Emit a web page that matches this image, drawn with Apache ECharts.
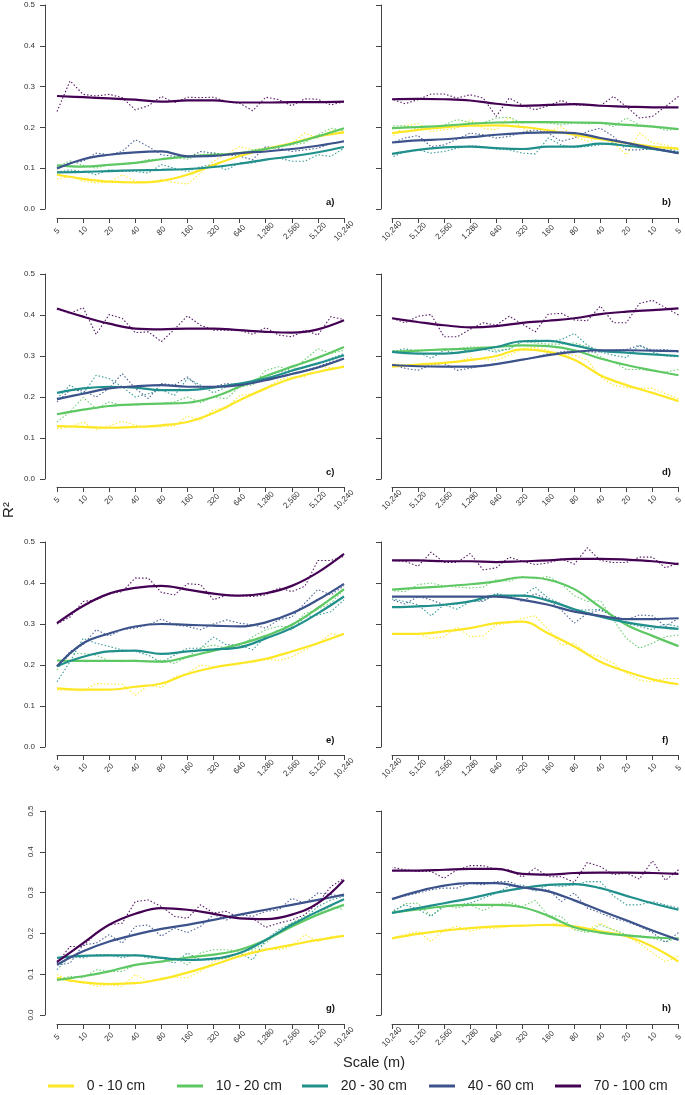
<!DOCTYPE html>
<html>
<head>
<meta charset="utf-8">
<script src="https://cdn.jsdelivr.net/npm/echarts@6/dist/echarts.min.js"></script>
<style>
  html, body { margin: 0; padding: 0; background: #fff; }
  #chart { width: 685px; height: 1095px; }
</style>
</head>
<body>
<div id="chart"></div>
<script>
// scale steps (m), doubling from 5
const scales = ['5', '10', '20', '40', '80', '160', '320', '640', '1,280', '2,560', '5,120', '10,240'];
const depths = ['0 - 10 cm', '10 - 20 cm', '20 - 30 cm', '40 - 60 cm', '70 - 100 cm'];
const colors = ['#FDE725', '#5DC863', '#21908C', '#3B528B', '#440154'];
const panelNames = ['a)', 'b)', 'c)', 'd)', 'e)', 'f)', 'g)', 'h)'];

// fitted curves: one value per scale step (5 ... 10,240), rows in depth order
// raw values: one value per half step (5, ~7, 10, ~14 ... 10,240)
const fitA = [
  [0.084, 0.074, 0.067, 0.065, 0.069, 0.084, 0.108, 0.130, 0.147, 0.161, 0.178, 0.188],
  [0.107, 0.104, 0.108, 0.113, 0.122, 0.129, 0.133, 0.137, 0.147, 0.160, 0.178, 0.198],
  [0.090, 0.091, 0.093, 0.095, 0.096, 0.098, 0.103, 0.111, 0.121, 0.129, 0.139, 0.152],
  [0.099, 0.122, 0.133, 0.139, 0.141, 0.129, 0.130, 0.137, 0.141, 0.147, 0.155, 0.166],
  [0.277, 0.274, 0.271, 0.268, 0.263, 0.266, 0.266, 0.261, 0.261, 0.262, 0.262, 0.263]
];
const rawA = [
  [0.073, 0.080, 0.068, 0.064, 0.065, 0.084, 0.068, 0.065, 0.072, 0.065, 0.061, 0.088, 0.117, 0.135, 0.153, 0.145, 0.149, 0.153, 0.162, 0.186, 0.174, 0.194, 0.190],
  [0.104, 0.118, 0.107, 0.100, 0.109, 0.109, 0.113, 0.121, 0.122, 0.125, 0.122, 0.133, 0.137, 0.133, 0.133, 0.145, 0.149, 0.153, 0.157, 0.162, 0.182, 0.198, 0.192],
  [0.090, 0.096, 0.092, 0.084, 0.096, 0.092, 0.092, 0.088, 0.109, 0.100, 0.092, 0.104, 0.109, 0.096, 0.113, 0.113, 0.121, 0.125, 0.117, 0.117, 0.133, 0.129, 0.149],
  [0.100, 0.113, 0.117, 0.137, 0.133, 0.141, 0.170, 0.153, 0.133, 0.129, 0.125, 0.141, 0.137, 0.133, 0.129, 0.121, 0.153, 0.149, 0.141, 0.145, 0.149, 0.161, 0.166],
  [0.239, 0.314, 0.281, 0.277, 0.281, 0.273, 0.243, 0.253, 0.276, 0.261, 0.274, 0.273, 0.274, 0.263, 0.259, 0.241, 0.274, 0.268, 0.253, 0.270, 0.269, 0.255, 0.263]
];

const fitB = [
  [0.148, 0.153, 0.162, 0.171, 0.182, 0.193, 0.201, 0.205, 0.204, 0.200, 0.194, 0.186],
  [0.196, 0.202, 0.206, 0.211, 0.212, 0.213, 0.213, 0.212, 0.209, 0.204, 0.201, 0.198],
  [0.137, 0.147, 0.155, 0.160, 0.153, 0.153, 0.147, 0.149, 0.153, 0.151, 0.145, 0.135],
  [0.137, 0.149, 0.162, 0.174, 0.186, 0.188, 0.186, 0.182, 0.176, 0.171, 0.168, 0.163],
  [0.249, 0.249, 0.251, 0.253, 0.257, 0.255, 0.253, 0.258, 0.266, 0.269, 0.270, 0.269]
];
const rawB = [
  [0.145, 0.157, 0.162, 0.186, 0.133, 0.162, 0.174, 0.166, 0.178, 0.202, 0.190, 0.186, 0.198, 0.225, 0.194, 0.198, 0.219, 0.198, 0.194, 0.190, 0.209, 0.204, 0.176],
  [0.196, 0.193, 0.204, 0.206, 0.223, 0.202, 0.211, 0.209, 0.211, 0.206, 0.211, 0.212, 0.211, 0.225, 0.223, 0.211, 0.212, 0.219, 0.206, 0.198, 0.196, 0.204, 0.204],
  [0.141, 0.149, 0.153, 0.157, 0.153, 0.162, 0.157, 0.153, 0.151, 0.157, 0.174, 0.135, 0.137, 0.145, 0.147, 0.153, 0.155, 0.149, 0.141, 0.137, 0.145, 0.141, 0.127],
  [0.137, 0.145, 0.147, 0.145, 0.145, 0.178, 0.198, 0.190, 0.174, 0.166, 0.186, 0.194, 0.188, 0.178, 0.174, 0.182, 0.186, 0.171, 0.157, 0.153, 0.180, 0.174, 0.163],
  [0.276, 0.251, 0.227, 0.223, 0.251, 0.276, 0.253, 0.255, 0.255, 0.266, 0.253, 0.243, 0.255, 0.272, 0.227, 0.272, 0.280, 0.272, 0.282, 0.282, 0.268, 0.258, 0.269]
];

const fitC = [
  [0.129, 0.127, 0.125, 0.127, 0.131, 0.139, 0.161, 0.192, 0.221, 0.245, 0.261, 0.274],
  [0.158, 0.169, 0.178, 0.182, 0.184, 0.186, 0.200, 0.225, 0.251, 0.274, 0.296, 0.322],
  [0.210, 0.221, 0.225, 0.223, 0.217, 0.217, 0.223, 0.233, 0.245, 0.264, 0.282, 0.302],
  [0.195, 0.208, 0.221, 0.226, 0.229, 0.225, 0.225, 0.229, 0.241, 0.256, 0.272, 0.294],
  [0.416, 0.396, 0.379, 0.367, 0.365, 0.367, 0.367, 0.363, 0.359, 0.357, 0.365, 0.387]
];
const rawC = [
  [0.123, 0.127, 0.139, 0.120, 0.129, 0.141, 0.131, 0.127, 0.127, 0.129, 0.154, 0.143, 0.169, 0.174, 0.204, 0.208, 0.223, 0.241, 0.249, 0.249, 0.274, 0.272, 0.272],
  [0.139, 0.164, 0.199, 0.172, 0.188, 0.180, 0.180, 0.184, 0.184, 0.188, 0.200, 0.186, 0.200, 0.196, 0.225, 0.229, 0.265, 0.274, 0.265, 0.291, 0.318, 0.306, 0.314],
  [0.196, 0.229, 0.208, 0.253, 0.245, 0.225, 0.200, 0.208, 0.217, 0.204, 0.245, 0.229, 0.210, 0.225, 0.229, 0.241, 0.249, 0.261, 0.265, 0.274, 0.282, 0.294, 0.306],
  [0.188, 0.217, 0.215, 0.200, 0.221, 0.257, 0.221, 0.196, 0.233, 0.229, 0.249, 0.221, 0.225, 0.233, 0.229, 0.237, 0.245, 0.249, 0.257, 0.265, 0.274, 0.286, 0.294],
  [0.414, 0.404, 0.418, 0.353, 0.401, 0.392, 0.357, 0.359, 0.335, 0.365, 0.398, 0.375, 0.363, 0.363, 0.363, 0.353, 0.369, 0.351, 0.347, 0.363, 0.351, 0.396, 0.389]
];

const fitD = [
  [0.190, 0.210, 0.229, 0.253, 0.291, 0.310, 0.316, 0.300, 0.290, 0.283, 0.279, 0.274],
  [0.253, 0.265, 0.278, 0.294, 0.314, 0.324, 0.326, 0.322, 0.318, 0.316, 0.313, 0.310],
  [0.300, 0.304, 0.308, 0.313, 0.326, 0.337, 0.336, 0.322, 0.312, 0.306, 0.306, 0.310],
  [0.312, 0.313, 0.314, 0.314, 0.310, 0.302, 0.291, 0.280, 0.274, 0.274, 0.275, 0.278],
  [0.416, 0.412, 0.408, 0.402, 0.392, 0.386, 0.381, 0.373, 0.370, 0.375, 0.383, 0.392]
];
const rawD = [
  [0.196, 0.208, 0.221, 0.221, 0.223, 0.229, 0.249, 0.290, 0.302, 0.306, 0.314, 0.321, 0.318, 0.302, 0.290, 0.291, 0.296, 0.286, 0.283, 0.282, 0.278, 0.278, 0.282],
  [0.267, 0.261, 0.264, 0.267, 0.267, 0.286, 0.298, 0.322, 0.332, 0.329, 0.329, 0.332, 0.335, 0.316, 0.314, 0.322, 0.322, 0.318, 0.316, 0.314, 0.314, 0.314, 0.313],
  [0.298, 0.300, 0.310, 0.326, 0.296, 0.302, 0.310, 0.326, 0.355, 0.340, 0.335, 0.339, 0.335, 0.318, 0.310, 0.316, 0.318, 0.306, 0.314, 0.294, 0.310, 0.318, 0.310],
  [0.310, 0.316, 0.314, 0.326, 0.316, 0.314, 0.310, 0.310, 0.314, 0.310, 0.306, 0.296, 0.290, 0.286, 0.280, 0.278, 0.270, 0.265, 0.282, 0.278, 0.265, 0.270, 0.278],
  [0.400, 0.418, 0.436, 0.428, 0.381, 0.381, 0.422, 0.386, 0.388, 0.404, 0.402, 0.359, 0.378, 0.397, 0.375, 0.381, 0.365, 0.347, 0.347, 0.401, 0.397, 0.381, 0.392]
];

const fitE = [
  [0.143, 0.140, 0.140, 0.147, 0.155, 0.178, 0.194, 0.204, 0.215, 0.233, 0.253, 0.276],
  [0.211, 0.210, 0.210, 0.210, 0.208, 0.220, 0.235, 0.251, 0.271, 0.298, 0.339, 0.385],
  [0.197, 0.220, 0.233, 0.235, 0.227, 0.233, 0.238, 0.243, 0.265, 0.290, 0.326, 0.367],
  [0.197, 0.253, 0.277, 0.294, 0.300, 0.298, 0.296, 0.294, 0.304, 0.326, 0.359, 0.398],
  [0.302, 0.344, 0.374, 0.388, 0.393, 0.384, 0.374, 0.369, 0.375, 0.393, 0.426, 0.471]
];
const rawE = [
  [0.139, 0.139, 0.137, 0.155, 0.153, 0.153, 0.126, 0.151, 0.145, 0.171, 0.180, 0.200, 0.196, 0.200, 0.204, 0.206, 0.214, 0.211, 0.220, 0.237, 0.253, 0.276, 0.271],
  [0.188, 0.228, 0.228, 0.224, 0.210, 0.208, 0.212, 0.208, 0.212, 0.204, 0.220, 0.241, 0.249, 0.241, 0.243, 0.269, 0.286, 0.294, 0.294, 0.326, 0.336, 0.351, 0.384],
  [0.159, 0.208, 0.265, 0.253, 0.245, 0.237, 0.233, 0.224, 0.206, 0.224, 0.241, 0.241, 0.268, 0.249, 0.249, 0.237, 0.269, 0.286, 0.286, 0.317, 0.322, 0.330, 0.359],
  [0.196, 0.233, 0.249, 0.286, 0.271, 0.286, 0.290, 0.298, 0.312, 0.298, 0.294, 0.286, 0.300, 0.310, 0.302, 0.298, 0.290, 0.310, 0.317, 0.351, 0.384, 0.371, 0.393],
  [0.300, 0.317, 0.355, 0.359, 0.374, 0.379, 0.412, 0.412, 0.377, 0.371, 0.398, 0.396, 0.359, 0.371, 0.369, 0.367, 0.371, 0.388, 0.379, 0.392, 0.455, 0.455, 0.465]
];

const fitF = [
  [0.153, 0.165, 0.184, 0.208, 0.245, 0.277, 0.306, 0.302, 0.290, 0.282, 0.276, 0.276],
  [0.246, 0.271, 0.298, 0.341, 0.385, 0.408, 0.414, 0.404, 0.397, 0.392, 0.388, 0.384],
  [0.288, 0.294, 0.304, 0.318, 0.336, 0.357, 0.369, 0.369, 0.355, 0.347, 0.343, 0.341],
  [0.314, 0.312, 0.312, 0.320, 0.330, 0.347, 0.359, 0.367, 0.367, 0.367, 0.367, 0.367],
  [0.446, 0.453, 0.457, 0.459, 0.459, 0.455, 0.453, 0.451, 0.453, 0.453, 0.455, 0.455]
];
const rawF = [
  [0.167, 0.167, 0.159, 0.163, 0.180, 0.204, 0.220, 0.228, 0.253, 0.249, 0.286, 0.320, 0.314, 0.302, 0.298, 0.271, 0.269, 0.292, 0.269, 0.265, 0.276, 0.276, 0.277],
  [0.273, 0.269, 0.253, 0.241, 0.265, 0.310, 0.357, 0.355, 0.369, 0.398, 0.416, 0.410, 0.416, 0.404, 0.408, 0.390, 0.388, 0.390, 0.393, 0.400, 0.396, 0.379, 0.381],
  [0.294, 0.300, 0.286, 0.294, 0.302, 0.318, 0.336, 0.334, 0.334, 0.349, 0.363, 0.390, 0.367, 0.367, 0.375, 0.355, 0.355, 0.336, 0.347, 0.320, 0.347, 0.355, 0.361],
  [0.314, 0.294, 0.320, 0.322, 0.310, 0.320, 0.334, 0.326, 0.302, 0.334, 0.359, 0.374, 0.355, 0.367, 0.371, 0.357, 0.357, 0.349, 0.347, 0.359, 0.367, 0.349, 0.359],
  [0.449, 0.437, 0.463, 0.463, 0.450, 0.450, 0.455, 0.486, 0.446, 0.459, 0.449, 0.445, 0.453, 0.463, 0.437, 0.432, 0.472, 0.450, 0.450, 0.475, 0.441, 0.453, 0.455]
];

const fitG = [
  [0.091, 0.080, 0.076, 0.078, 0.088, 0.104, 0.123, 0.144, 0.160, 0.172, 0.184, 0.194],
  [0.086, 0.095, 0.107, 0.123, 0.131, 0.141, 0.148, 0.160, 0.184, 0.217, 0.246, 0.270],
  [0.140, 0.145, 0.146, 0.146, 0.140, 0.135, 0.138, 0.152, 0.184, 0.221, 0.254, 0.284],
  [0.123, 0.156, 0.180, 0.197, 0.211, 0.221, 0.233, 0.246, 0.258, 0.270, 0.282, 0.295],
  [0.130, 0.176, 0.221, 0.248, 0.262, 0.258, 0.248, 0.237, 0.235, 0.246, 0.274, 0.331]
];
const rawG = [
  [0.099, 0.082, 0.082, 0.070, 0.074, 0.070, 0.099, 0.082, 0.091, 0.093, 0.091, 0.107, 0.131, 0.140, 0.148, 0.156, 0.164, 0.160, 0.168, 0.197, 0.180, 0.193, 0.193],
  [0.086, 0.095, 0.091, 0.111, 0.107, 0.107, 0.123, 0.127, 0.131, 0.140, 0.123, 0.152, 0.160, 0.160, 0.156, 0.160, 0.176, 0.205, 0.225, 0.242, 0.250, 0.266, 0.258],
  [0.111, 0.144, 0.140, 0.148, 0.148, 0.140, 0.148, 0.140, 0.140, 0.127, 0.152, 0.135, 0.135, 0.140, 0.152, 0.135, 0.184, 0.209, 0.225, 0.237, 0.266, 0.282, 0.291],
  [0.123, 0.127, 0.172, 0.176, 0.197, 0.176, 0.217, 0.221, 0.193, 0.213, 0.202, 0.217, 0.246, 0.233, 0.246, 0.242, 0.254, 0.258, 0.286, 0.274, 0.299, 0.295, 0.291],
  [0.127, 0.168, 0.168, 0.201, 0.221, 0.225, 0.278, 0.282, 0.266, 0.242, 0.237, 0.270, 0.250, 0.254, 0.237, 0.237, 0.215, 0.225, 0.233, 0.246, 0.274, 0.315, 0.335]
];

const fitH = [
  [0.131, 0.168, 0.193, 0.205, 0.217, 0.221, 0.219, 0.217, 0.213, 0.207, 0.199, 0.188],
  [0.188, 0.190, 0.195, 0.202, 0.215, 0.243, 0.264, 0.270, 0.270, 0.266, 0.259, 0.251],
  [0.258, 0.274, 0.292, 0.311, 0.321, 0.319, 0.311, 0.300, 0.286, 0.274, 0.262, 0.250],
  [0.184, 0.207, 0.232, 0.256, 0.281, 0.303, 0.313, 0.323, 0.323, 0.317, 0.303, 0.284],
  [0.346, 0.348, 0.349, 0.349, 0.348, 0.344, 0.346, 0.358, 0.358, 0.356, 0.354, 0.354]
];
const rawH = [
  [0.144, 0.131, 0.152, 0.176, 0.193, 0.209, 0.225, 0.209, 0.209, 0.227, 0.221, 0.219, 0.217, 0.217, 0.213, 0.213, 0.205, 0.217, 0.209, 0.180, 0.205, 0.197, 0.188],
  [0.188, 0.180, 0.188, 0.194, 0.197, 0.209, 0.221, 0.202, 0.209, 0.242, 0.243, 0.281, 0.266, 0.276, 0.270, 0.256, 0.270, 0.262, 0.270, 0.242, 0.274, 0.273, 0.250],
  [0.262, 0.270, 0.278, 0.270, 0.270, 0.292, 0.327, 0.327, 0.319, 0.315, 0.319, 0.303, 0.319, 0.315, 0.299, 0.286, 0.274, 0.270, 0.266, 0.242, 0.259, 0.270, 0.254],
  [0.202, 0.178, 0.202, 0.217, 0.229, 0.237, 0.250, 0.262, 0.299, 0.278, 0.307, 0.307, 0.313, 0.327, 0.327, 0.319, 0.323, 0.311, 0.311, 0.307, 0.299, 0.292, 0.286],
  [0.356, 0.330, 0.378, 0.333, 0.348, 0.344, 0.364, 0.374, 0.325, 0.339, 0.339, 0.360, 0.338, 0.356, 0.357, 0.366, 0.366, 0.356, 0.335, 0.352, 0.352, 0.356, 0.362]
];

const fits = [fitA, fitB, fitC, fitD, fitE, fitF, fitG, fitH];
const raws = [rawA, rawB, rawC, rawD, rawE, rawF, rawG, rawH];

// layout (px)
const rowTop = [5, 274, 542, 811];
const rowHeight = [204, 205, 205, 204];
const xAxisOffset = [9, 8, 8, 9];
const colLeft = [57, 392];
const colWidth = [287, 288];
const legendLeft = [48, 177, 302, 429, 555];

const font = 'Liberation Sans, Arial, sans-serif';
const axisColor = '#444';

const grid = [], xAxis = [], yAxis = [], series = [], graphic = [];

for (let i = 0; i < 8; i++) {
  const row = Math.floor(i / 2), col = i % 2;
  const right = col === 1;
  grid.push({
    left: colLeft[col], top: rowTop[row],
    width: colWidth[col], height: rowHeight[row]
  });
  xAxis.push({
    gridIndex: i, type: 'value', min: 0, max: 11, interval: 1,
    inverse: right, position: 'bottom', offset: xAxisOffset[row],
    axisLine: { onZero: false, lineStyle: { color: axisColor, width: 1 } },
    axisTick: { length: 5, lineStyle: { color: axisColor } },
    splitLine: { show: false },
    axisLabel: {
      rotate: 45, align: 'center', verticalAlign: 'middle', margin: 13,
      fontSize: 8, color: '#333', fontFamily: font,
      formatter: v => scales[v]
    }
  });
  yAxis.push({
    gridIndex: i, type: 'value', min: 0, max: 0.5, interval: 0.1,
    position: 'left', offset: right ? 11 : 12,
    axisLine: { show: true, onZero: false, lineStyle: { color: axisColor, width: 1 } },
    axisTick: { show: true, length: 5, lineStyle: { color: axisColor } },
    splitLine: { show: false },
    axisLabel: row === 3 ? {
      show: !right, rotate: 90, align: 'center', verticalAlign: 'bottom', margin: 10,
      fontSize: 8, color: '#333', fontFamily: font,
      formatter: v => v.toFixed(1)
    } : {
      show: !right, margin: 10, fontSize: 8, color: '#333', fontFamily: font,
      formatter: v => v.toFixed(1)
    }
  });
  // dotted raw values first, fitted curves on top
  for (let d = 0; d < 5; d++) {
    series.push({
      name: depths[d] + ' raw', type: 'line', xAxisIndex: i, yAxisIndex: i,
      data: raws[i][d].map((v, k) => [k / 2, v]),
      symbol: 'none', silent: true,
      lineStyle: { color: colors[d], width: 1.1, type: [1.5, 2], opacity: 0.9 },
      itemStyle: { color: colors[d] }
    });
  }
  for (let d = 0; d < 5; d++) {
    series.push({
      name: depths[d], type: 'line', xAxisIndex: i, yAxisIndex: i,
      data: fits[i][d].map((v, k) => [k, v]),
      symbol: 'none', smooth: 0.4,
      lineStyle: { color: colors[d], width: 2.2 },
      itemStyle: { color: colors[d] }
    });
  }
  // panel letter
  graphic.push({
    type: 'text', left: colLeft[col] + colWidth[col] - 9 - 9, top: rowTop[row] + rowHeight[row] - 12,
    style: { text: panelNames[i], font: 'bold 9.5px ' + font, fill: '#111' }
  });
}

graphic.push({
  type: 'text', x: 9, y: 510, rotation: Math.PI / 2,
  style: { text: 'R²', font: '15px ' + font, fill: '#222', align: 'center', verticalAlign: 'middle' }
});
graphic.push({
  type: 'text', x: 374, y: 1063,
  style: { text: 'Scale (m)', font: '14.5px ' + font, fill: '#222', align: 'center', verticalAlign: 'middle' }
});

const legend = depths.map((d, i) => ({
  data: [d], left: legendLeft[i], top: 1079, padding: 0,
  icon: 'rect', itemWidth: 26, itemHeight: 3, selectedMode: false,
  formatter: name => '  ' + name,
  textStyle: { fontSize: 14, color: '#222', fontFamily: font }
}));

const chart = echarts.init(document.getElementById('chart'), null, { renderer: 'canvas' });
chart.setOption({
  backgroundColor: '#fff',
  animation: false,
  grid, xAxis, yAxis, series, graphic, legend
});
</script>
</body>
</html>
